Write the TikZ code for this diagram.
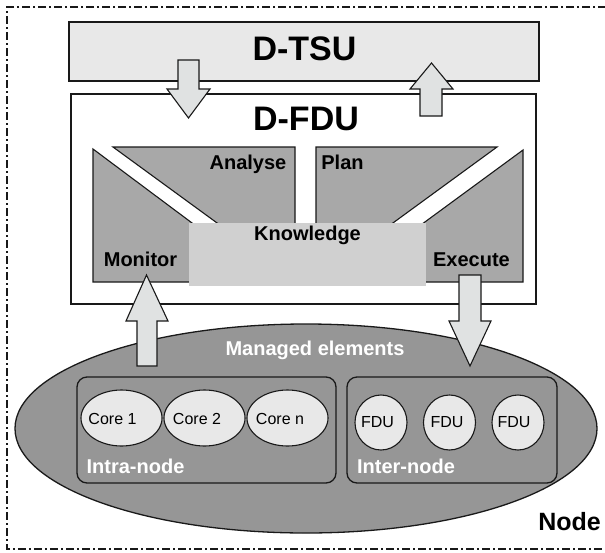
\documentclass[tikz,border=0pt]{standalone}
\usepackage{fontspec}
\setmainfont{Liberation Sans}
\usetikzlibrary{shapes.geometric}
\definecolor{linec}{RGB}{25,25,25}
\definecolor{tsufill}{RGB}{232,232,232}
\definecolor{arrowfill}{RGB}{224,226,226}
\definecolor{piecefill}{RGB}{168,168,168}
\definecolor{knowfill}{RGB}{208,208,208}
\definecolor{nodefill}{RGB}{150,150,150}
\definecolor{corefill}{RGB}{232,232,232}
\tikzset{
  every node/.style={inner sep=0pt, outer sep=0pt},
  outline/.style={draw=linec, line width=1.1pt},
  bigtitle/.style={font=\fontsize{34}{36}\selectfont\bfseries, anchor=base},
  mlabel/.style={font=\fontsize{20}{22}\selectfont\bfseries, anchor=base},
  wlabel/.style={font=\fontsize{20}{22}\selectfont\bfseries, anchor=base, text=white},
  smalllabel/.style={font=\fontsize{16}{18}\selectfont, anchor=base},
  piece/.style={outline, fill=piecefill},
  blockarrow/.style={outline, fill=arrowfill, line join=miter},
  corenode/.style={ellipse, outline, fill=corefill, minimum width=81pt, minimum height=56pt},
  fdunode/.style={ellipse, outline, fill=corefill, minimum width=52pt, minimum height=55pt},
  groupbox/.style={draw=linec, line width=1.3pt, fill=nodefill, rounded corners=10pt},
}
\begin{document}
\begin{tikzpicture}[x=1pt, y=-1pt]
\useasboundingbox (0,0) rectangle (605,552);
% outer node border (dash-dot)
\draw[linec, line width=1.3pt, dash pattern=on 8pt off 3pt on 2pt off 3pt]
  (606,7) -- (7,7) -- (7,549) -- (606,549);
% D-TSU and D-FDU boxes
\node[outline, fill=tsufill, minimum width=470pt, minimum height=59pt, anchor=north west] (tsu) at (69,22) {};
\node[outline, fill=white, minimum width=465pt, minimum height=210pt, anchor=north west] (fdu) at (71,94) {};
\node[bigtitle] (tsut) at (304.5,60) {D-TSU};
\node[bigtitle] (fdut) at (306,130) {D-FDU};
% arrows between D-TSU and D-FDU
\draw[blockarrow] (178,60) -- (199,60) -- (199,89) -- (210,89) -- (188.5,118) -- (167,89) -- (178,89) -- cycle;
\draw[blockarrow] (420,116) -- (442,116) -- (442,89) -- (453,89) -- (431.5,63) -- (410,89) -- (420,89) -- cycle;
% MAPE pieces
\draw[piece] (93,149) -- (210,236.4) -- (210,282) -- (93,282) -- cycle;
\draw[piece] (113,147) -- (295,147) -- (295,240) -- (240.4,240) -- cycle;
\draw[piece] (316,147) -- (497,147) -- (369.6,240) -- (316,240) -- cycle;
\draw[piece] (523,150) -- (523,282) -- (405,282) -- (405,236.6) -- cycle;
\node[fill=knowfill, minimum width=237pt, minimum height=63pt, anchor=north west] (know) at (189,223) {};
\node[mlabel] (analyse) at (248,169) {Analyse};
\node[mlabel] (plan) at (342.5,169) {Plan};
\node[mlabel] (knowt) at (307.5,240) {Knowledge};
\node[mlabel] (monitor) at (140.5,266) {Monitor};
\node[mlabel] (execute) at (471.5,266) {Execute};
% managed elements
\node[ellipse, draw=linec, line width=1.3pt, fill=nodefill, minimum width=582pt, minimum height=209pt] (managed) at (306,428.5) {};
\node[wlabel] (managedt) at (315,355) {Managed elements};
\node[groupbox, minimum width=259pt, minimum height=106pt, anchor=north west] (intra) at (77,377) {};
\node[groupbox, minimum width=210pt, minimum height=106pt, anchor=north west] (inter) at (347,377) {};
\node[corenode] (c1) at (121.5,418) {};
\node[corenode] (c2) at (204.5,418) {};
\node[corenode] (cn) at (287.5,418) {};
\node[smalllabel] (c1t) at (112.5,424) {Core 1};
\node[smalllabel] (c2t) at (197,424) {Core 2};
\node[smalllabel] (cnt) at (280,424) {Core n};
\node[fdunode] (f1) at (381,422.5) {};
\node[fdunode] (f2) at (449.5,422.5) {};
\node[fdunode] (f3) at (518,422.5) {};
\node[smalllabel] (f1t) at (377.5,427) {FDU};
\node[smalllabel] (f2t) at (447,427) {FDU};
\node[smalllabel] (f3t) at (514,427) {FDU};
\node[wlabel] (intrat) at (135.5,473) {Intra-node};
\node[wlabel] (intert) at (406,473) {Inter-node};
\node[font=\fontsize{25}{27}\selectfont\bfseries, anchor=base] (nodet) at (569.5,530) {Node};
% monitor / execute arrows
\draw[blockarrow] (137,366) -- (157,366) -- (157,321) -- (168,321) -- (146.5,275) -- (126,321) -- (137,321) -- cycle;
\draw[blockarrow] (459,275) -- (481,275) -- (481,321) -- (491,321) -- (470,366) -- (449,321) -- (459,321) -- cycle;
\end{tikzpicture}
\end{document}
